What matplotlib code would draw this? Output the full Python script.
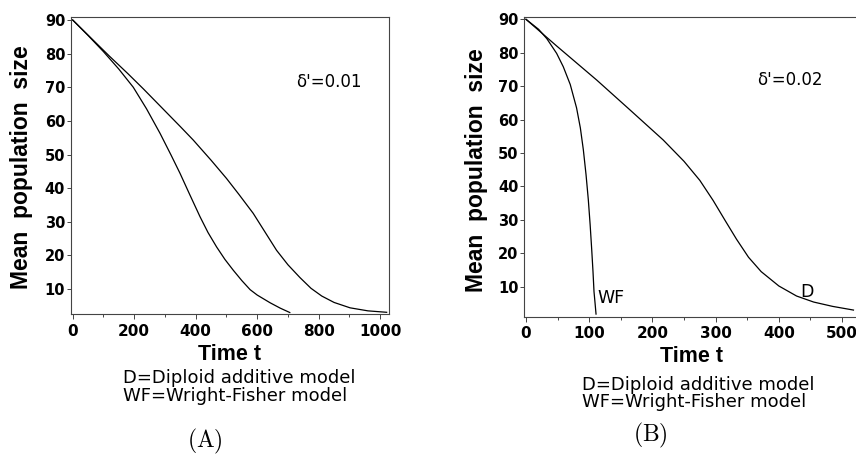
import matplotlib
matplotlib.use("Agg")
import matplotlib.pyplot as plt
from matplotlib.ticker import MultipleLocator

plt.rcParams['mathtext.fontset'] = 'cm'

# panel A, delta'=0.01
a_d_t = [0, 60, 120, 180, 230, 290, 350, 392, 450, 500, 540, 587, 625, 663, 700,
         739, 775, 810, 850, 902, 960, 1021]
a_d_n = [90, 84.6, 79.2, 74.0, 69.5, 63.9, 58.3, 54.3, 48.3, 42.9, 38.2, 32.5, 27.0,
         21.5, 17.2, 13.4, 10.2, 7.9, 6.0, 4.4, 3.5, 3.07]
a_wf_t = [0, 50, 100, 150, 197, 240, 284, 320, 349, 380, 414, 440, 468, 495, 522,
          550, 577, 600, 642, 675, 706]
a_wf_n = [90, 85.4, 80.6, 75.4, 70.0, 63.6, 56.3, 49.8, 44.4, 38.2, 31.5, 26.8, 22.5,
          18.8, 15.6, 12.5, 9.8, 8.2, 5.9, 4.3, 3.0]

# panel B, delta'=0.02
b_d_t = [0, 48, 112, 165, 217, 250, 275, 296, 315, 333, 352, 372, 400, 428, 455, 485, 518]
b_d_n = [90, 82.1, 71.8, 62.8, 53.9, 47.5, 41.8, 35.8, 29.8, 24.2, 18.8, 14.5, 10.2,
         7.2, 5.4, 4.1, 3.0]
b_wf_t = [0, 20, 33, 48.5, 59, 70, 80, 86, 90.7, 95, 98.6, 101.5, 104, 106, 107.6,
          109.3, 110.8]
b_wf_n = [90, 87.0, 84.2, 79.8, 75.8, 70.5, 63.5, 57.5, 51.0, 43.5, 36.0, 28.5, 21.0,
          14.5, 8.5, 5.0, 1.8]

fig = plt.figure(figsize=(8.56, 4.55), dpi=100)
axA = fig.add_axes([0.0826, 0.3099, 0.3722, 0.6527])
axB = fig.add_axes([0.6121, 0.3040, 0.3879, 0.6580])

axA.plot(a_d_t, a_d_n, color='black', lw=0.9)
axA.plot(a_wf_t, a_wf_n, color='black', lw=0.9)
axB.plot(b_d_t, b_d_n, color='black', lw=0.9)
axB.plot(b_wf_t, b_wf_n, color='black', lw=0.9)

axA.set_xlim(-6.5, 1029.6)
axA.set_ylim(2.565, 90.89)
axB.set_xlim(-3.2, 522)
axB.set_ylim(1.02, 90.6)

axA.xaxis.set_major_locator(MultipleLocator(200))
axA.xaxis.set_minor_locator(MultipleLocator(100))
axB.xaxis.set_major_locator(MultipleLocator(100))
axB.xaxis.set_minor_locator(MultipleLocator(50))

for ax in (axA, axB):
    ax.set_yticks(range(10, 91, 10))
    for s in ax.spines.values():
        s.set_color('#444444')
        s.set_linewidth(0.8)
    ax.tick_params(axis='x', which='major', length=3.5, width=0.7, color='#444444', pad=3.5)
    ax.tick_params(axis='x', which='minor', length=2.5, width=0.7, color='#444444')
    ax.tick_params(axis='y', length=3.2, width=0.7, color='#444444', pad=0.8)
    for lab in ax.get_xticklabels():
        lab.set_fontfamily('DejaVu Sans')
        lab.set_fontweight('bold')
        lab.set_fontsize(11)
    for lab in ax.get_yticklabels():
        lab.set_fontfamily('DejaVu Sans')
        lab.set_fontweight('bold')
        lab.set_fontsize(10.5)
axB.spines['right'].set_visible(False)

axA.text(0.81, 0.78, "δ'=0.01", transform=axA.transAxes, ha='center', va='center',
         fontsize=12, family='DejaVu Sans')
axB.text(0.80, 0.79, "δ'=0.02", transform=axB.transAxes, ha='center', va='center',
         fontsize=12, family='DejaVu Sans')
axB.text(113, 1.02 + (316.7 - 303) / 3.3425, "WF", ha='left', va='baseline',
         fontsize=12.5, family='DejaVu Sans')
axB.text(434, 1.02 + (316.7 - 297) / 3.3425, "D", ha='left', va='baseline',
         fontsize=12.5, family='DejaVu Sans')

W, H = 856.0, 455.0
ylab = "Mean  population  size"
fig.text(22 / W, 1 - 167.5 / H, ylab, rotation=90, ha='center', va='center',
         fontsize=16.5, fontweight='bold', family=['Liberation Sans', 'DejaVu Sans'])
fig.text(476 / W, 1 - 170 / H, ylab, rotation=90, ha='center', va='center',
         fontsize=16.5, fontweight='bold', family=['Liberation Sans', 'DejaVu Sans'])

fig.text(229.5 / W, 1 - 360 / H, "Time t", ha='center', va='baseline',
         fontsize=15.5, fontweight='bold', family=['Liberation Sans', 'DejaVu Sans'])
fig.text(691 / W, 1 - 362 / H, "Time t", ha='center', va='baseline',
         fontsize=15.5, fontweight='bold', family=['Liberation Sans', 'DejaVu Sans'])

legend_lines = ["D=Diploid additive model", "WF=Wright-Fisher model"]
fig.text(123 / W, 1 - 383 / H, legend_lines[0], ha='left', va='baseline',
         fontsize=13, family='DejaVu Sans')
fig.text(123 / W, 1 - 401 / H, legend_lines[1], ha='left', va='baseline',
         fontsize=13, family='DejaVu Sans')
fig.text(582 / W, 1 - 390 / H, legend_lines[0], ha='left', va='baseline',
         fontsize=13, family='DejaVu Sans')
fig.text(582 / W, 1 - 407 / H, legend_lines[1], ha='left', va='baseline',
         fontsize=13, family='DejaVu Sans')

fig.text(205 / W, 1 - 441 / H, r'$\mathrm{(A)}$', ha='center', va='center', fontsize=17)
fig.text(650 / W, 1 - 435 / H, r'$\mathrm{(B)}$', ha='center', va='center', fontsize=17)

fig.savefig('out.png', dpi=100)
